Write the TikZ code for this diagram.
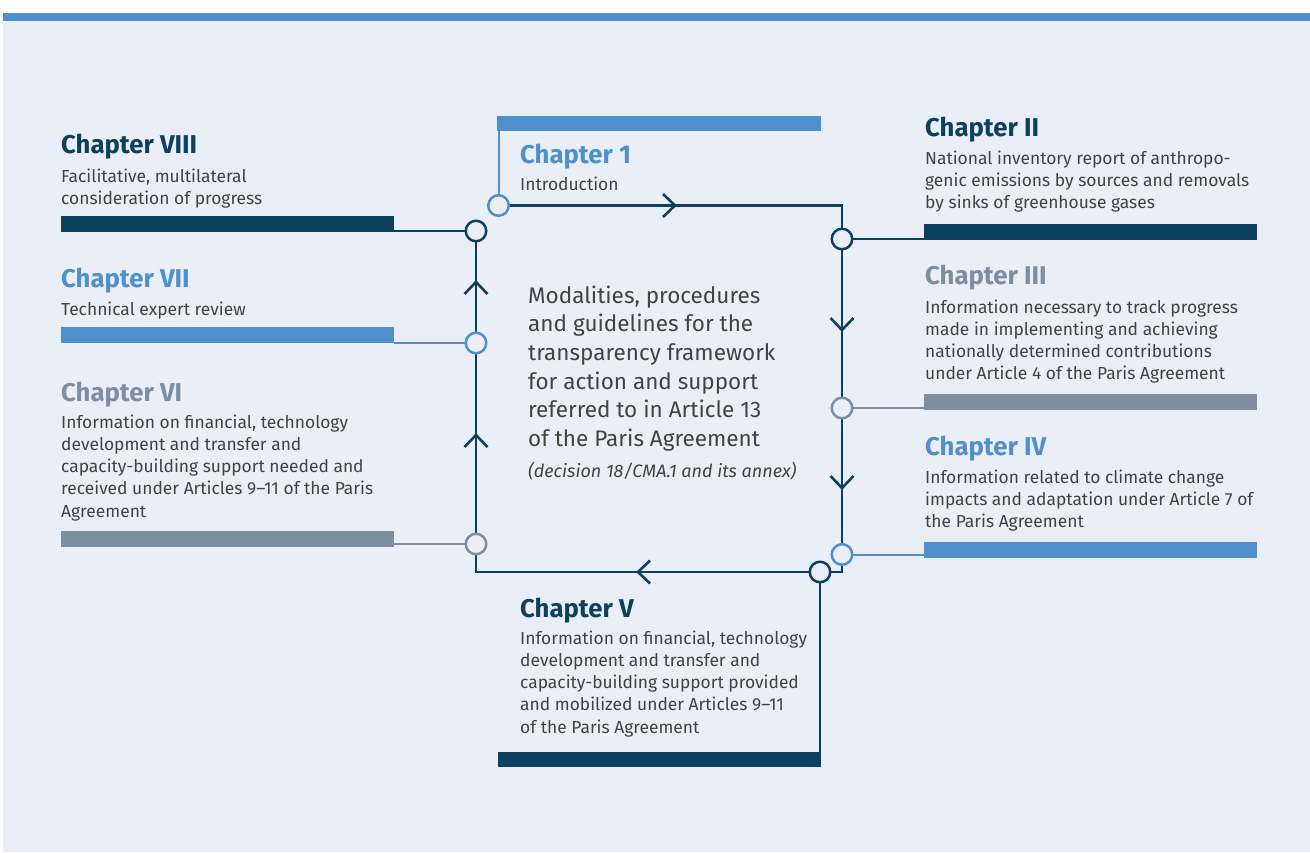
\documentclass[tikz,border=0pt]{standalone}
\usepackage{fontspec}
\setmainfont{Fira Sans}
\definecolor{navy}{RGB}{11,64,95}
\definecolor{mblue}{RGB}{79,143,204}
\definecolor{gry}{RGB}{127,142,158}
\definecolor{bgc}{RGB}{234,238,247}
\definecolor{tcol}{RGB}{66,66,66}
\pgfdeclarelayer{back}
\pgfdeclarelayer{lines}
\pgfsetlayers{back,lines,main}
\begin{document}
\begin{tikzpicture}[x=1pt,y=-1pt,
  head/.style={anchor=base west, inner sep=0, text=#1, font=\fontsize{25.7}{30}\selectfont\bfseries},
  txt/.style={anchor=base west, inner sep=0, text=tcol, font=\fontsize{17.4}{22.3}\selectfont},
  bar/.style={rectangle, inner sep=0, anchor=north west, fill=#1, minimum height=16, minimum width=333},
  circ/.style={circle, draw=#1, line width=2.5, fill=bgc, minimum size=20.5, inner sep=0},
  conn/.style={draw=#1, line width=2},
  mainline/.style={draw=navy, line width=2.6},
  chev/.pic={\draw[mainline] (-12,-11.5) -- (0,0) -- (-12,11.5);}
]
\useasboundingbox (0,0) rectangle (1310,852);
\begin{pgfonlayer}{back}
\fill[bgc] (3,21) rectangle (1310,852);
\fill[mblue] (3,13) rectangle (1310,21);
\end{pgfonlayer}

% bars
\node[bar=navy] (b8) at (61,216) {};
\node[bar=mblue] (b7) at (61,327) {};
\node[bar=gry] (b6) at (61,531) {};
\node[bar=mblue, minimum width=324, minimum height=15] (b1) at (497,116) {};
\node[bar=navy] (b2) at (924,224) {};
\node[bar=gry] (b3) at (924,394) {};
\node[bar=mblue] (b4) at (924,542) {};
\node[bar=navy, minimum width=323, minimum height=15] (b5) at (498,752) {};

% circles
\node[circ=mblue] (c1) at (498.5,205.5) {};
\node[circ=navy] (c2) at (842,239) {};
\node[circ=gry] (c3) at (842,408) {};
\node[circ=mblue] (c4) at (842,554.5) {};
\node[circ=navy] (c5) at (820,572) {};
\node[circ=gry] (c6) at (476,544) {};
\node[circ=mblue] (c7) at (476,343) {};
\node[circ=navy] (c8) at (476,231) {};

\begin{pgfonlayer}{lines}
\draw[mainline] (c1.center) -- (c1 -| c2) -- (c2.center) -- (c3.center) -- (c4.center) -- (c4 |- c5) -- (c5.center) -- (c5 -| c6) -- (c6.center) -- (c7.center) -- (c8.center);
\draw[conn=navy] (c5.center) -- (c5 |- b5.south);
\draw[conn=mblue] (c1.center) -- (c1 |- b1.south);
\draw[conn=navy] (c8.center) -- (c8 -| b8.east);
\draw[conn=mblue] (c7.center) -- (c7 -| b7.east);
\draw[conn=gry] (c6.center) -- (c6 -| b6.east);
\draw[conn=navy] (c2.center) -- (c2 -| b2.west);
\draw[conn=gry] (c3.center) -- (c3 -| b3.west);
\draw[conn=mblue] (c4.center) -- (c4 -| b4.west);
\end{pgfonlayer}

% chevrons
\coordinate (a1) at (675,205.5);
\coordinate (a2) at (842,330);
\coordinate (a3) at (842,488);
\coordinate (a4) at (638,572);
\coordinate (a5) at (476,435);
\coordinate (a6) at (476,282);
\pic at (a1) {chev};
\pic[rotate=-90] at (a2) {chev};
\pic[rotate=-90] at (a3) {chev};
\pic[rotate=180] at (a4) {chev};
\pic[rotate=90] at (a5) {chev};
\pic[rotate=90] at (a6) {chev};

% texts
\node[head=navy] (h8) at (61,153) {Chapter VIII};
\node[txt] (t8) at (61,182) {\parbox[t]{400pt}{\raggedright Facilitative, multilateral\\consideration of progress}};
\node[head=mblue] (h7) at (61,287) {Chapter VII};
\node[txt] (t7) at (61,315) {Technical expert review};
\node[head=gry] (h6) at (61,401) {Chapter VI};
\node[txt] (t6) at (61,428) {\parbox[t]{400pt}{\raggedright Information on financial, technology\\development and transfer and\\capacity-building support needed and\\received under Articles 9–11 of the Paris\\Agreement}};
\node[head=mblue] (h1) at (520,163) {Chapter 1};
\node[txt] (t1) at (520,190) {Introduction};
\node[head=navy] (h2) at (925,136) {Chapter II};
\node[txt] (t2) at (925,164) {\parbox[t]{400pt}{\raggedright National inventory report of anthropo-\\genic emissions by sources and removals\\by sinks of greenhouse gases}};
\node[head=gry] (h3) at (925,284) {Chapter III};
\node[txt] (t3) at (925,313) {\parbox[t]{400pt}{\raggedright Information necessary to track progress\\made in implementing and achieving\\nationally determined contributions\\under Article 4 of the Paris Agreement}};
\node[head=mblue] (h4) at (925,455) {Chapter IV};
\node[txt] (t4) at (925,483) {\parbox[t]{400pt}{\raggedright Information related to climate change\\impacts and adaptation under Article 7 of\\the Paris Agreement}};
\node[head=navy] (h5) at (520,617) {Chapter V};
\node[txt] (t5) at (520,644) {\parbox[t]{400pt}{\raggedright Information on financial, technology\\development and transfer and\\capacity-building support provided\\and mobilized under Articles 9–11\\of the Paris Agreement}};
\node[anchor=base west, inner sep=0, text=tcol, font=\fontsize{22.5}{28.7}\selectfont] (ctr) at (528,303) {\parbox[t]{400pt}{\raggedright Modalities, procedures\\and guidelines for the\\transparency framework\\for action and support\\referred to in Article 13\\of the Paris Agreement}};
\node[anchor=base west, inner sep=0, text=tcol, font=\fontsize{18}{22}\selectfont\itshape] (dec) at (528,477) {(decision 18/CMA.1 and its annex)};
\end{tikzpicture}
\end{document}
